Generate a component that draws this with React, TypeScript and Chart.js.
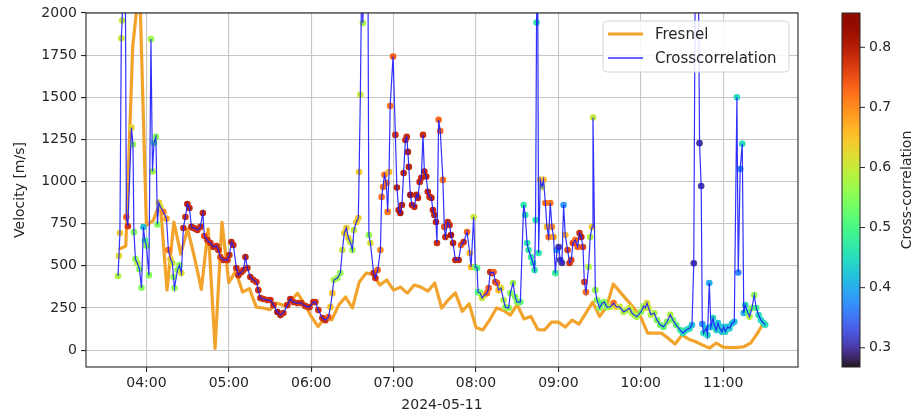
import { useEffect, useRef } from "react";
import { Chart, registerables } from "chart.js";

Chart.register(...registerables);

const FONT_FAMILY = '"DejaVu Sans", "Liberation Sans", sans-serif';
Chart.defaults.font.family = FONT_FAMILY;

// Fresnel velocity estimate, one value every 5 minutes
const fresnelTime = [
  "03:40", "03:45", "03:50", "03:55", "04:00", "04:05", "04:10", "04:15", "04:20", "04:25",
  "04:30", "04:35", "04:40", "04:45", "04:50", "04:55", "05:00", "05:05", "05:10", "05:15",
  "05:20", "05:25", "05:30", "05:35", "05:40", "05:45", "05:50", "05:55", "06:00", "06:05",
  "06:10", "06:15", "06:20", "06:25", "06:30", "06:35", "06:40", "06:45", "06:50", "06:55",
  "07:00", "07:05", "07:10", "07:15", "07:20", "07:25", "07:30", "07:35", "07:40", "07:45",
  "07:50", "07:55", "08:00", "08:05", "08:10", "08:15", "08:20", "08:25", "08:30", "08:35",
  "08:40", "08:45", "08:50", "08:55", "09:00", "09:05", "09:10", "09:15", "09:20", "09:25",
  "09:30", "09:35", "09:40", "09:45", "09:50", "09:55", "10:00", "10:05", "10:10", "10:15",
  "10:20", "10:25", "10:30", "10:35", "10:40", "10:45", "10:50", "10:55", "11:00", "11:05",
  "11:10", "11:15", "11:20", "11:25", "11:30",
];
const fresnelVelocity = [
  598, 618, 1800, 2180, 740, 770, 880, 356, 760, 570,
  720, 550, 360, 720, 10, 760, 400, 470, 345, 365,
  255, 250, 240, 280, 265, 290, 338, 275, 200, 140,
  190, 180, 267, 315, 250, 404, 457, 451, 386, 416,
  356, 374, 338, 386, 374, 350, 398, 250, 300, 340,
  230, 275, 135, 120, 180, 250, 235, 208, 270, 185,
  200, 122, 120, 166, 166, 137, 178, 154, 220, 285,
  200, 255, 392, 344, 297, 250, 196, 101, 101, 101,
  70, 36, 89, 65, 50, 30, 12, 42, 18, 15,
  15, 20, 42, 100, 170,
];

// Cross-correlation velocity: time (minutes after midnight), velocity, correlation coefficient
const ccMinute = [
  219.3, 220.0, 220.7, 221.7, 222.3, 223.3, 224.6, 225.4, 226.5, 229.1,
  230.2, 230.9, 232.0, 233.4, 234.9, 236.4, 237.8, 238.9, 240.0, 241.8,
  243.3, 244.4, 245.5, 246.9, 248.0, 249.1, 250.2, 252.4, 254.6, 256.0,
  257.5, 258.9, 259.7, 260.4, 262.6, 264.0, 265.5, 266.9, 268.4, 269.8,
  271.3, 272.8, 274.2, 275.7, 277.1, 279.3, 281.1, 282.2, 284.4, 286.6,
  288.8, 291.0, 292.4, 293.9, 296.1, 299.0, 300.4, 301.9, 303.3, 305.5,
  307.0, 309.2, 310.6, 312.1, 313.5, 315.7, 317.9, 320.1, 321.5, 323.0,
  325.2, 328.1, 330.3, 332.5, 335.4, 337.6, 339.7, 342.6, 344.8, 347.0,
  349.9, 352.8, 355.8, 358.7, 361.6, 363.0, 365.2, 368.1, 370.3, 372.5,
  374.0, 375.4, 376.5, 379.0, 381.2, 382.7, 384.1, 385.6, 387.1, 388.5,
  390.0, 391.1, 392.9, 394.3, 394.9, 395.8, 396.9, 397.6, 398.7, 401.3,
  402.0, 403.1, 405.5, 406.7, 408.4, 410.4, 411.3, 412.3, 413.3, 414.7,
  415.7, 416.7, 417.5, 419.6, 421.3, 422.4, 423.7, 424.9, 426.1, 427.3,
  428.6, 429.6, 430.4, 431.1, 432.2, 433.4, 435.1, 436.6, 437.7, 439.0,
  440.2, 441.4, 442.4, 443.8, 444.9, 446.2, 447.5, 448.6, 449.7, 450.9,
  451.6, 452.8, 454.0, 455.9, 456.9, 457.7, 459.4, 460.8, 461.8, 463.3,
  465.0, 467.4, 469.1, 471.0, 473.5, 475.4, 476.4, 478.3, 479.5, 480.8,
  481.5, 483.2, 484.4, 486.1, 488.0, 489.2, 490.4, 491.7, 492.8, 494.1,
  495.3, 496.5, 498.2, 500.1, 501.4, 503.8, 505.0, 507.0, 508.6, 509.9,
  512.3, 514.7, 515.9, 517.2, 518.3, 520.1, 521.5, 522.7, 523.4, 524.1,
  524.9, 525.6, 526.8, 528.1, 529.2, 530.5, 531.7, 532.9, 534.1, 535.3,
  536.5, 537.8, 539.0, 540.2, 541.4, 542.6, 543.8, 545.0, 546.7, 548.2,
  549.4, 550.6, 552.3, 554.0, 555.4, 556.7, 557.9, 558.9, 560.1, 562.0,
  563.2, 564.5, 565.2, 566.9, 568.1, 570.0, 571.8, 573.4, 575.4, 577.8,
  580.2, 582.2, 584.6, 587.5, 590.0, 591.8, 593.6, 595.3, 597.1, 600.1,
  602.0, 603.3, 604.5, 605.7, 607.4, 609.8, 611.8, 614.2, 616.6, 619.1,
  621.5, 623.4, 625.8, 628.8, 630.7, 633.1, 635.5, 637.3, 638.6, 639.7,
  641.9, 642.8, 644.0, 644.8, 645.7, 647.7, 648.6, 649.9, 651.1, 652.6,
  653.5, 655.0, 656.2, 657.4, 659.1, 660.3, 661.5, 663.2, 664.6, 666.4,
  668.1, 670.0, 671.0, 672.4, 673.9, 675.0, 676.1, 677.7, 679.2, 681.0,
  682.6, 684.1, 685.8, 687.5, 689.4, 690.6,
];
const ccVelocity = [
  440, 560, 695, 1850, 1955, 2300, 2300, 790, 735, 1320,
  1220, 700, 540, 515, 480, 370, 730, 650, 620, 445,
  1845, 1060, 1230, 1265, 745, 875, 850, 820, 780, 594,
  540, 517, 434, 368, 475, 505, 457, 725, 790, 867,
  843, 731, 725, 720, 713, 731, 814, 677, 653, 635,
  612, 618, 594, 552, 535, 535, 564, 641, 624, 487,
  445, 463, 475, 552, 487, 434, 416, 404, 356, 309,
  303, 297, 297, 267, 226, 208, 220, 267, 303, 285,
  279, 279, 261, 255, 285, 285, 238, 190, 178, 196,
  255, 338, 416, 428, 457, 594, 695, 725, 665, 641,
  594, 713, 760, 784, 1057, 1515, 2300, 1940, 2300, 2300,
  683, 635, 457, 428, 475, 594, 909, 968, 1040, 992,
  820, 1057, 1449, 1742, 1277, 965, 831, 814, 861, 1051,
  1247, 1265, 1176, 1087, 921, 861, 850, 921, 903, 998,
  1022, 1277, 1060, 1030, 939, 909, 903, 831, 802, 760,
  635, 1366, 1300, 1010, 731, 671, 760, 742, 683, 635,
  535, 535, 624, 641, 701, 576, 493, 790, 493, 487,
  344, 338, 309, 327, 338, 368, 463, 457, 463, 404,
  398, 356, 368, 297, 255, 250, 338, 398, 315, 285,
  285, 861, 802, 635, 594, 552, 517, 475, 772, 1944,
  2300, 576, 1010, 968, 1010, 873, 731, 671, 873, 731,
  671, 457, 594, 612, 535, 517, 861, 683, 594, 517,
  535, 635, 653, 612, 695, 671, 612, 404, 344, 493,
  671, 731, 1380, 356, 297, 250, 279, 285, 255, 257,
  279, 257, 257, 227, 238, 250, 220, 208, 198, 227,
  261, 250, 279, 250, 210, 220, 178, 149, 138, 168,
  210, 178, 149, 119, 101, 119, 129, 149, 515, 2300,
  2300, 1228, 974, 155, 101, 131, 89, 398, 138, 190,
  149, 119, 160, 131, 109, 138, 109, 138, 129, 158,
  168, 1500, 460, 1075, 1224, 220, 267, 227, 198, 250,
  327, 250, 208, 178, 160, 150,
];
const ccCorrelation = [
  0.58, 0.62, 0.64, 0.61, 0.6, 0.6, 0.6, 0.73, 0.77, 0.63,
  0.56, 0.55, 0.56, 0.58, 0.55, 0.55, 0.42, 0.5, 0.55, 0.55,
  0.57, 0.57, 0.5, 0.55, 0.55, 0.63, 0.62, 0.7, 0.68, 0.72,
  0.65, 0.6, 0.56, 0.56, 0.56, 0.56, 0.62, 0.78, 0.78, 0.79,
  0.79, 0.79, 0.79, 0.78, 0.78, 0.78, 0.79, 0.76, 0.78, 0.78,
  0.78, 0.78, 0.78, 0.76, 0.78, 0.78, 0.78, 0.79, 0.78, 0.78,
  0.78, 0.79, 0.78, 0.79, 0.78, 0.79, 0.78, 0.78, 0.78, 0.79,
  0.78, 0.78, 0.78, 0.78, 0.81, 0.79, 0.78, 0.78, 0.79, 0.78,
  0.78, 0.78, 0.78, 0.78, 0.79, 0.78, 0.78, 0.78, 0.78, 0.74,
  0.65, 0.65, 0.58, 0.57, 0.56, 0.6, 0.64, 0.64, 0.63, 0.6,
  0.57, 0.6, 0.64, 0.64, 0.64, 0.6, 0.6, 0.58, 0.58, 0.58,
  0.56, 0.62, 0.78, 0.78, 0.73, 0.7, 0.72, 0.72, 0.72, 0.72,
  0.72, 0.66, 0.72, 0.74, 0.78, 0.79, 0.79, 0.81, 0.79, 0.79,
  0.79, 0.78, 0.79, 0.79, 0.81, 0.79, 0.79, 0.79, 0.79, 0.79,
  0.79, 0.78, 0.79, 0.79, 0.79, 0.79, 0.79, 0.79, 0.79, 0.79,
  0.78, 0.73, 0.73, 0.72, 0.75, 0.78, 0.78, 0.78, 0.81, 0.79,
  0.79, 0.79, 0.73, 0.78, 0.73, 0.66, 0.66, 0.6, 0.55, 0.5,
  0.5, 0.55, 0.6, 0.62, 0.72, 0.74, 0.78, 0.78, 0.73, 0.76,
  0.74, 0.66, 0.62, 0.58, 0.56, 0.55, 0.55, 0.57, 0.55, 0.55,
  0.52, 0.47, 0.47, 0.47, 0.47, 0.47, 0.47, 0.47, 0.47, 0.47,
  0.47, 0.47, 0.64, 0.6, 0.66, 0.72, 0.66, 0.72, 0.72, 0.7,
  0.68, 0.48, 0.4, 0.3, 0.3, 0.3, 0.38, 0.66, 0.76, 0.78,
  0.76, 0.76, 0.73, 0.73, 0.78, 0.79, 0.76, 0.76, 0.72, 0.58,
  0.58, 0.64, 0.6, 0.56, 0.55, 0.55, 0.5, 0.55, 0.55, 0.58,
  0.72, 0.65, 0.6, 0.58, 0.58, 0.6, 0.58, 0.58, 0.57, 0.55,
  0.57, 0.6, 0.62, 0.6, 0.58, 0.58, 0.55, 0.53, 0.52, 0.55,
  0.58, 0.55, 0.52, 0.48, 0.45, 0.45, 0.45, 0.42, 0.3, 0.3,
  0.3, 0.3, 0.3, 0.38, 0.45, 0.42, 0.45, 0.4, 0.42, 0.45,
  0.42, 0.44, 0.42, 0.44, 0.42, 0.42, 0.44, 0.42, 0.44, 0.42,
  0.42, 0.45, 0.37, 0.38, 0.45, 0.4, 0.45, 0.5, 0.58, 0.55,
  0.56, 0.5, 0.45, 0.45, 0.45, 0.45,
];

const hourTicks = ["04:00", "05:00", "06:00", "07:00", "08:00", "09:00", "10:00", "11:00"];
const velocityTicks = [0, 250, 500, 750, 1000, 1250, 1500, 1750, 2000];
const correlationTicks = [0.3, 0.4, 0.5, 0.6, 0.7, 0.8];

const X_MIN = 196;
const X_MAX = 714.5;
const Y_MIN = -100;
const Y_MAX = 2000;
const C_MIN = 0.268;
const C_MAX = 0.857;

const DATE_LABEL = "2024-05-11";
const TEXT_COLOR = "#262626";
const FRESNEL_COLOR = "#f2a32c";
const CC_LINE_COLOR = "rgba(25,25,255,0.9)";

function toMinutes(s: string): number {
  const [h, m] = s.split(":").map(Number);
  return h * 60 + m;
}

function formatClock(v: number): string {
  const h = Math.floor(v / 60);
  const m = Math.round(v - h * 60);
  return `${String(h).padStart(2, "0")}:${String(m).padStart(2, "0")}`;
}

// polynomial fit of the "turbo" colormap
function turbo(t: number): string {
  const x = Math.min(1, Math.max(0, t));
  const r = 0.13572138 + x * (4.6153926 + x * (-42.66032258 + x * (132.13108234 + x * (-152.94239396 + x * 59.28637943))));
  const g = 0.09140261 + x * (2.19418839 + x * (4.84296658 + x * (-14.18503333 + x * (4.27729857 + x * 2.82956604))));
  const b = 0.1066733 + x * (12.64194608 + x * (-60.58204836 + x * (110.36276771 + x * (-89.90310912 + x * 27.34824973))));
  const c = (v: number) => Math.round(255 * Math.min(1, Math.max(0, v)));
  return `rgb(${c(r)},${c(g)},${c(b)})`;
}

const corrColor = (v: number) => turbo((v - C_MIN) / (C_MAX - C_MIN));

const decorPlugin = {
  id: "decor",
  afterDraw(chart: any) {
    const { ctx, chartArea: a } = chart;
    ctx.save();

    // axes frame
    ctx.strokeStyle = TEXT_COLOR;
    ctx.lineWidth = 1.1;
    ctx.strokeRect(a.left, a.top, a.right - a.left, a.bottom - a.top);

    // axis titles
    ctx.fillStyle = TEXT_COLOR;
    ctx.font = `14px ${FONT_FAMILY}`;
    ctx.textAlign = "center";
    ctx.textBaseline = "middle";
    ctx.fillText(DATE_LABEL, (a.left + a.right) / 2, 405);
    ctx.save();
    ctx.translate(20, (a.top + a.bottom) / 2);
    ctx.rotate(-Math.PI / 2);
    ctx.fillText("Velocity [m/s]", 0, 0);
    ctx.restore();

    // legend
    const lx = a.right - 195;
    const ly = a.top + 8;
    const lw = 186;
    const lh = 51;
    ctx.beginPath();
    ctx.roundRect(lx, ly, lw, lh, 4);
    ctx.fillStyle = "rgba(255,255,255,0.85)";
    ctx.fill();
    ctx.strokeStyle = "#d4d4d4";
    ctx.lineWidth = 1;
    ctx.stroke();
    const rows = [
      { label: "Fresnel", color: FRESNEL_COLOR, width: 3 },
      { label: "Crosscorrelation", color: CC_LINE_COLOR, width: 1.4 },
    ];
    rows.forEach((r, i) => {
      const y = ly + 13 + i * 24;
      ctx.beginPath();
      ctx.strokeStyle = r.color;
      ctx.lineWidth = r.width;
      ctx.moveTo(lx + 5, y);
      ctx.lineTo(lx + 40, y);
      ctx.stroke();
      ctx.fillStyle = TEXT_COLOR;
      ctx.font = `15px ${FONT_FAMILY}`;
      ctx.textAlign = "left";
      ctx.textBaseline = "middle";
      ctx.fillText(r.label, lx + 52, y + 1);
    });

    // colour bar
    const cx0 = a.right + 44;
    const cx1 = cx0 + 18;
    const top = a.top;
    const bottom = a.bottom;
    for (let y = top; y < bottom; y++) {
      const t = 1 - (y + 0.5 - top) / (bottom - top);
      ctx.fillStyle = turbo(t);
      ctx.fillRect(cx0, y, cx1 - cx0, 1);
    }
    ctx.strokeStyle = TEXT_COLOR;
    ctx.lineWidth = 1;
    ctx.strokeRect(cx0, top, cx1 - cx0, bottom - top);
    ctx.font = `14px ${FONT_FAMILY}`;
    ctx.textAlign = "left";
    ctx.textBaseline = "middle";
    ctx.fillStyle = TEXT_COLOR;
    correlationTicks.forEach((v) => {
      const y = bottom - ((v - C_MIN) / (C_MAX - C_MIN)) * (bottom - top);
      ctx.beginPath();
      ctx.moveTo(cx1, y);
      ctx.lineTo(cx1 + 5, y);
      ctx.stroke();
      ctx.fillText(v.toFixed(1), cx1 + 9, y);
    });
    ctx.save();
    ctx.translate(cx1 + 47, (top + bottom) / 2);
    ctx.rotate(-Math.PI / 2);
    ctx.textAlign = "center";
    ctx.fillText("Cross-correlation", 0, 0);
    ctx.restore();

    ctx.restore();
  },
};

export default function App() {
  const canvasRef = useRef<HTMLCanvasElement | null>(null);

  useEffect(() => {
    const canvas = canvasRef.current;
    if (!canvas) return;

    const ccPoints = ccMinute.map((m, i) => ({ x: m, y: ccVelocity[i] }));
    const fresnelPoints = fresnelTime.map((t, i) => ({ x: toMinutes(t), y: fresnelVelocity[i] }));

    const chart = new Chart(canvas, {
      type: "line",
      data: {
        datasets: [
          {
            type: "line",
            label: "Crosscorrelation",
            data: ccPoints,
            borderColor: CC_LINE_COLOR,
            borderWidth: 1.2,
            pointRadius: 0,
            tension: 0,
            order: 1,
            clip: 0,
          },
          {
            type: "scatter",
            label: "Cross-correlation",
            data: ccPoints,
            backgroundColor: ccCorrelation.map(corrColor),
            pointRadius: 3.3,
            pointBorderWidth: 0,
            borderWidth: 0,
            order: 2,
            clip: 0,
          },
          {
            type: "line",
            label: "Fresnel",
            data: fresnelPoints,
            borderColor: FRESNEL_COLOR,
            borderWidth: 3.2,
            pointRadius: 0,
            tension: 0,
            borderJoinStyle: "round",
            order: 3,
            clip: 0,
          },
        ],
      } as any,
      options: {
        responsive: false,
        animation: false,
        events: [],
        layout: { padding: { top: 13, right: 121, left: 0, bottom: 0 } },
        plugins: { legend: { display: false }, tooltip: { enabled: false } },
        scales: {
          x: {
            type: "linear",
            min: X_MIN,
            max: X_MAX,
            afterBuildTicks: (s: any) => {
              s.ticks = hourTicks.map((h) => ({ value: toMinutes(h) }));
            },
            afterFit: (s: any) => {
              s.height = 50;
            },
            ticks: {
              callback: (v: any) => formatClock(Number(v)),
              font: { family: FONT_FAMILY, size: 14 },
              color: TEXT_COLOR,
              padding: 3,
              maxRotation: 0,
              autoSkip: false,
            },
            grid: { color: "#c6c6c6", lineWidth: 1.1, tickColor: TEXT_COLOR, tickLength: 5 },
            border: { display: false },
          },
          y: {
            type: "linear",
            min: Y_MIN,
            max: Y_MAX,
            afterBuildTicks: (s: any) => {
              s.ticks = velocityTicks.map((v) => ({ value: v }));
            },
            afterFit: (s: any) => {
              s.width = 86;
            },
            ticks: {
              callback: (v: any) => String(v),
              font: { family: FONT_FAMILY, size: 14 },
              color: TEXT_COLOR,
              padding: 4,
              autoSkip: false,
            },
            grid: { color: "#c6c6c6", lineWidth: 1.1, tickColor: TEXT_COLOR, tickLength: 5 },
            border: { display: false },
          },
        },
      } as any,
      plugins: [decorPlugin],
    });

    return () => chart.destroy();
  }, []);

  return (
    <div style={{ position: "absolute", left: 0, top: 0, width: 919, height: 417, background: "#fff" }}>
      <canvas ref={canvasRef} width={919} height={417} />
    </div>
  );
}
